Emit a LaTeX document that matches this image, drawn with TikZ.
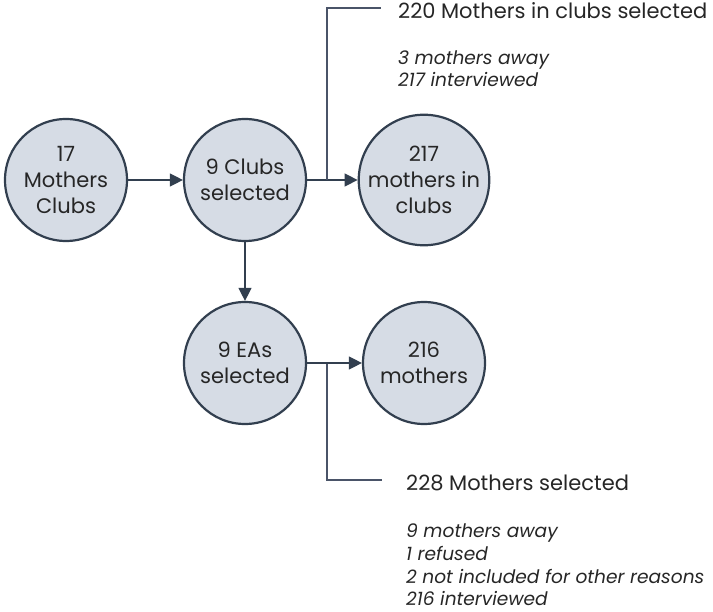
\documentclass[tikz,border=0pt]{standalone}
\usepackage{fontspec}
\setmainfont{Poppins}
\usetikzlibrary{arrows.meta}
\definecolor{edge}{HTML}{323F4F}
\definecolor{fillc}{HTML}{D6DCE5}
\definecolor{branch}{HTML}{4A5468}
\tikzset{
  circ/.style={circle,draw=edge,fill=fillc,line width=2.2pt,minimum size=122pt,inner sep=0pt,align=center,font=\fontsize{21}{26}\selectfont,text=black!85},
  arr/.style={draw=edge,line width=1.3pt,-{Triangle[length=13pt,width=13pt]}},
  brl/.style={draw=branch,line width=1.1pt},
  head/.style={anchor=base west,font=\fontsize{21}{24}\selectfont,text=black!85,inner sep=0pt},
  note/.style={anchor=base west,font=\fontsize{18.6}{23}\selectfont\itshape,text=black!85,inner sep=0pt}
}
\begin{document}
\begin{tikzpicture}[x=1pt,y=-1pt]
\useasboundingbox (0,0) rectangle (713,612);
\node[circ] (c1) at (66,180) {17\\Mothers\\Clubs};
\node[circ] (c2) at (245,180) {9 Clubs\\selected};
\node[circ] (c3) at (424,180) {217\\mothers in\\clubs};
\node[circ] (c4) at (245,363) {9 EAs\\selected};
\node[circ] (c5) at (424,363) {216\\mothers};
\draw[arr] (c1) -- (c2);
\draw[arr] (c2) -- (c3);
\draw[arr] (c2) -- (c4);
\draw[arr] (c4) -- (c5);
\coordinate (b1) at (327,180);
\coordinate (e1) at (381,8);
\coordinate (b2) at (327,364);
\coordinate (e2) at (382,480);
\draw[brl] (b1) |- (e1);
\draw[brl] (b2) |- (e2);
\node[head] (h1) at (398,19) {220 Mothers in clubs selected};
\node[note] (n1a) at (398,65) {3 mothers away};
\node[note] (n1b) at (398,87) {217 interviewed};
\node[head] (h2) at (406,490) {228 Mothers selected};
\node[note] (n2a) at (406,537) {9 mothers away};
\node[note] (n2b) at (406,560) {1 refused};
\node[note] (n2c) at (406,583) {2 not included for other reasons};
\node[note] (n2d) at (406,605) {216 interviewed};
\end{tikzpicture}
\end{document}
